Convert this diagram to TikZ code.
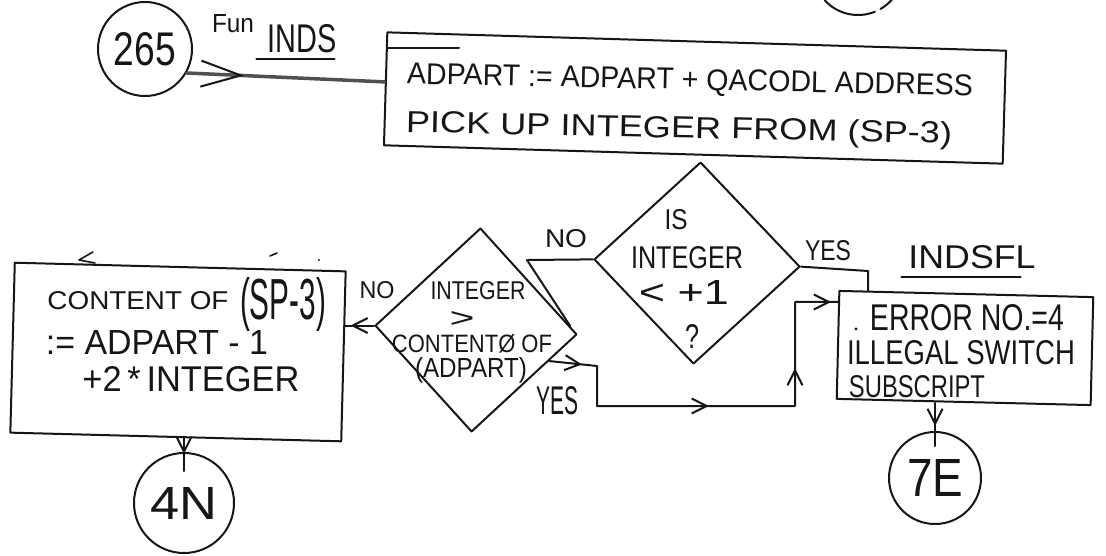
\documentclass[tikz,border=0pt]{standalone}
\usepackage{fontspec}
\setmainfont{Liberation Sans}
\usepackage{graphicx}
\usetikzlibrary{shapes.geometric,arrows.meta,decorations.markings,calc}
\definecolor{inkc}{HTML}{161616}
% text squeezed or stretched to a given width and cap height (in pt)
\newcommand{\hw}[3]{\resizebox{#1pt}{#2pt}{#3}}
% open barb used along the flow lines
\newcommand{\tipA}{\arrow{Straight Barb[length=15pt,width=15pt,line width=2pt,color=inkc]}}

\begin{document}
\begin{tikzpicture}[x=1pt,y=-1pt,
  ink/.style={draw=inkc,line width=2pt,line cap=round,line join=round},
  lbl/.style={inner sep=0pt,text=inkc},
  term/.style={ink,circle,inner sep=0pt,minimum size=#1,text=inkc},
  procbox/.style={ink,rectangle,inner sep=0pt},
  decision/.style={ink,diamond,inner sep=0pt},
  tipsat/.style={postaction={decorate},decoration={markings,#1}},
  hatchline/.style={ink,draw=inkc!75,line width=3.5pt},
]
\fill[white] (0,0) rectangle (1106,555);
\useasboundingbox (0,0) rectangle (1106,555);

% ---- entry point and first process box
\node[term=94pt] (c265) at (145,49) {\hw{62}{33}{265}};
\node[lbl] (fun) at (233,24) {\hw{42}{18}{Fun}};
\node[lbl] (inds) at (302,39) {\hw{69}{28}{INDS}};
\draw[ink] ($(inds.south west)+(-11,6)$) -- ($(inds.south east)+(-2,6)$);

\node[procbox,minimum width=619pt,minimum height=113pt,rotate=-1.7] (topbox) at (695,98) {};
\draw[ink] (388,48) -- (459,48);
\node[lbl,rotate=-1.2] (tb1) at (690,82) {\hw{566}{21}{ADPART := ADPART + QACODL ADDRESS}};
\node[lbl,rotate=-1.2] (tb2) at (679,130) {\hw{546}{22}{PICK UP INTEGER FROM (SP-3)}};

% connector circle cut by the top edge
\draw[ink] (858,-30) ++(138:45) arc[start angle=138,end angle=68,radius=45];
\draw[ink] (858,-30) ++(60:45) arc[start angle=60,end angle=40,radius=45];

% ---- first test
\node[decision,minimum width=206pt,minimum height=202pt,rotate=-2] (bigd) at (697,263) {};
\node[lbl] (isq1) at (676,220) {\hw{23}{20}{IS}};
\node[lbl] (isq2) at (687,258) {\hw{112}{22}{INTEGER}};
\node[lbl] (isq3) at (684,292) {\hw{90}{24}{< +1}};
\node[lbl] (isq4) at (692,336) {\hw{14}{24}{?}};
\node[lbl] (no1) at (566,239) {\hw{42}{18}{NO}};
\node[lbl] (yes1) at (828,251) {\hw{46}{20}{YES}};
\node[lbl] (indsfl) at (972,257) {\hw{127}{23}{INDSFL}};
\draw[ink] ($(indsfl.south west)+(-7,8)$) -- ($(indsfl.south east)+(-15,8)$);

% ---- error box
\node[procbox,minimum width=254pt,minimum height=108pt,rotate=-1.4] (errbox) at (965,348) {};
\fill[inkc] (856,329) circle (1.6);
\node[lbl] (e1) at (967,318) {\hw{194}{26}{ERROR NO.=4}};
\node[lbl] (e2) at (961,353) {\hw{228}{24}{ILLEGAL SWITCH}};
\node[lbl] (e3) at (917,387) {\hw{136}{22}{SUBSCRIPT}};
\node[term=92pt] (c7e) at (935,478) {\hw{56}{37}{7E}};

% ---- second test
\node[decision,minimum width=202pt,minimum height=204pt,rotate=-2.5] (smalld) at (476,330) {};
\node[lbl] (sd1) at (478,291) {\hw{95}{18}{INTEGER}};
\node[lbl] (sd2) at (462,319) {\hw{25}{16}{>}};
\node[lbl] (sd3) at (472,344) {\hw{160}{18}{CONTENTØ OF}};
\node[lbl] (sd4) at (471,370) {\hw{112}{20}{(ADPART)}};
\node[lbl] (no2) at (377,290) {\hw{35}{17}{NO}};
\node[lbl] (yes2) at (557,401) {\hw{42}{28}{YES}};

% ---- store box
\node[procbox,minimum width=331pt,minimum height=170pt,rotate=-1.5] (leftbox) at (178,352) {};
\draw[ink,line width=1.6pt] (93,252) -- (79,260) -- (95,263);
\draw[ink,line width=1.6pt] (270,256) -- (277,253);
\fill[inkc] (319,260) circle (1.2);
\node[lbl] (lb1) at (138,301) {\hw{181}{18}{CONTENT OF}};
\node[lbl] (lb2) at (283,304) {\hw{86}{42}{(SP-3)}};
\node[lbl] (lb3) at (157,342) {\hw{222}{24}{:= ADPART - 1}};
\node[lbl] (lb4) at (191,379) {\hw{217}{25}{+2\,*\,INTEGER}};
\node[term=100pt] (c4n) at (184,503) {\hw{67}{32}{4N}};

% ---- connectors
\coordinate (in265) at ($(topbox.north west)!0.44!(topbox.south west)$);
\draw[hatchline,tipsat={mark=at position 0.29 with {\arrow{Straight Barb[length=40pt,width=26pt,line width=2pt,color=inkc]}}}]
  (c265.-30) -- (in265);

\coordinate (nobend) at (527,260);
\coordinate (noend) at ($(smalld.north)!0.92!(smalld.east)$);
\draw[ink] (bigd.west) -- (nobend) -- (noend);

\coordinate (yesbend) at (868,271);
\coordinate (yesend) at ($(errbox.north west)!0.115!(errbox.north east)$);
\draw[ink] (bigd.east) -- (yesbend) -- (yesbend |- yesend);

\draw[ink,tipsat={mark=at position -6pt with {\tipA}}]
  (smalld.west) -- (smalld.west -| leftbox.east);

\coordinate (ys0) at ($(smalld.east)!0.27!(smalld.south)$);
\coordinate (ys1) at (597,366);
\coordinate (ys2) at (597,406);
\coordinate (ys3) at (795,406);
\coordinate (errin) at ($(errbox.north west)!0.11!(errbox.south west)$);
\draw[ink,tipsat={mark=at position 33pt with {\tipA},mark=at position 200pt with {\tipA},
    mark=at position 324pt with {\tipA},mark=at position -7pt with {\tipA}}]
  (ys0) -- (ys1) -- (ys2) -- (ys3) -- (ys3 |- errin) -- (errin);

\coordinate (out4n) at (c4n.north |- leftbox.south);
\coordinate (in4n) at ($(c4n.north)+(0,19)$);
\draw[ink,tipsat={mark=at position 16pt with {\tipA}}] (out4n) -- (in4n);

\coordinate (out7e) at (c7e.north |- errbox.south);
\coordinate (in7e) at ($(c7e.north)+(0,15)$);
\draw[ink,tipsat={mark=at position 23pt with {\tipA}}] (out7e) -- (in7e);
\end{tikzpicture}
\end{document}
